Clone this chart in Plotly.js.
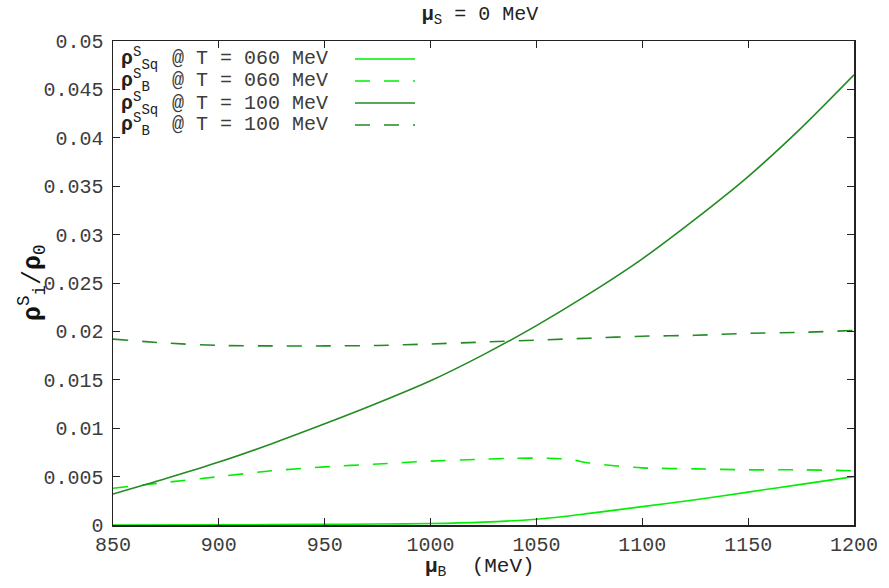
<!DOCTYPE html>
<html>
<head>
<meta charset="utf-8">
<script src="https://cdn.plot.ly/plotly-3.0.1.min.js"></script>
<style>html,body{margin:0;padding:0;background:#fff;}#chart{width:889px;height:588px;}</style>
</head>
<body>
<div id="chart"></div>
<script>
// ---- data ----
var muB_T060_Sq = [850, 900, 950, 975, 1000, 1025, 1050, 1060, 1075, 1100, 1125, 1150, 1175, 1200];
var rho_T060_Sq = [0.0000, 0.00002, 0.00006, 0.0001, 0.00015, 0.0003, 0.0006, 0.0008, 0.0012, 0.0019, 0.0026, 0.0034, 0.0042, 0.0050];

var muB_T060_B = [850, 875, 900, 925, 950, 975, 1000, 1025, 1040, 1055, 1065, 1075, 1088, 1100, 1125, 1150, 1175, 1200];
var rho_T060_B = [0.0038, 0.0044, 0.0050, 0.0056, 0.0060, 0.0063, 0.0066, 0.0068, 0.0069, 0.0069, 0.0068, 0.0064, 0.0061, 0.0059, 0.0058, 0.0057, 0.0057, 0.0056];

var muB_T100_Sq = [850, 875, 900, 925, 950, 975, 1000, 1025, 1050, 1075, 1100, 1125, 1150, 1175, 1200];
var rho_T100_Sq = [0.0032, 0.0048, 0.0065, 0.0084, 0.01045, 0.0126, 0.0149, 0.0176, 0.0206, 0.0239, 0.0275, 0.0316, 0.0360, 0.0410, 0.0465];

var muB_T100_B = [850, 875, 900, 925, 950, 975, 1000, 1025, 1050, 1075, 1100, 1125, 1150, 1175, 1200];
var rho_T100_B = [0.0192, 0.0188, 0.01855, 0.0185, 0.0185, 0.01855, 0.0187, 0.0189, 0.0191, 0.0193, 0.0195, 0.0196, 0.0198, 0.0199, 0.0201];

var legendSymbols = ["<b>ρ</b><sup>S</sup><sub>Sq</sub>", "<b>ρ</b><sup>S</sup><sub>B</sub>", "<b>ρ</b><sup>S</sup><sub>Sq</sub>", "<b>ρ</b><sup>S</sup><sub>B</sub>"];
var legendTexts = ["@ T = 060 MeV", "@ T = 060 MeV", "@ T = 100 MeV", "@ T = 100 MeV"];

var xTickVals = [850, 900, 950, 1000, 1050, 1100, 1150, 1200];
var titleText = "<b>μ</b><sub>S</sub> = 0 MeV";
var xTitleText = "<b>μ</b><sub>B</sub>  (MeV)";
var yTitleText = "<b>ρ</b><sup>S</sup><sub>i</sub>/<b>ρ</b><sub>0</sub>";

// ---- styling ----
var LIGHT = "#00ee00", DARK = "#228b22";
var DASH = "15px,14px";
var FONT = "Liberation Mono";
var TXT = "#3c3c3c";
var styles = [
  {color: LIGHT, dash: "solid"},
  {color: LIGHT, dash: DASH},
  {color: DARK, dash: "solid"},
  {color: DARK, dash: DASH}
];
var xs = [muB_T060_Sq, muB_T060_B, muB_T100_Sq, muB_T100_B];
var ys = [rho_T060_Sq, rho_T060_B, rho_T100_Sq, rho_T100_B];

var traces = xs.map(function (x, i) {
  return {
    x: x, y: ys[i], type: "scatter", mode: "lines",
    line: {color: styles[i].color, dash: styles[i].dash, width: 1.6, shape: "spline", smoothing: 0.8},
    showlegend: false, hoverinfo: "skip"
  };
});

var W = 889, H = 588, L = 113, R = 35, T = 41, B = 63;
var pw = W - L - R, ph = H - T - B;
function px(xp) { return (xp - L) / pw; }
function py(yp) { return (H - B - yp) / ph; }

var annotations = [];
var shapes = [];
var rows = [59, 81, 103, 125];
rows.forEach(function (r, i) {
  annotations.push({xref: "paper", yref: "paper", x: px(119), y: py(r), xanchor: "left", yanchor: "middle",
    text: legendSymbols[i], showarrow: false, font: {family: FONT, size: 20, color: "#222"}});
  annotations.push({xref: "paper", yref: "paper", x: px(170), y: py(r), xanchor: "left", yanchor: "middle",
    text: legendTexts[i], showarrow: false, font: {family: FONT, size: 20, color: TXT}});
  shapes.push({type: "line", xref: "paper", yref: "paper", x0: px(355), x1: px(415), y0: py(r), y1: py(r),
    line: {color: styles[i].color, dash: styles[i].dash, width: 1.6}});
});
// axis titles
annotations.push({xref: "paper", yref: "paper", x: px(32), y: py(283), xanchor: "center", yanchor: "middle",
  textangle: -90, text: yTitleText, showarrow: false, font: {family: FONT, size: 25, color: "#111"}});
annotations.push({xref: "paper", yref: "paper", x: px(480), y: py(567), xanchor: "center", yanchor: "middle",
  text: xTitleText, showarrow: false, font: {family: FONT, size: 21, color: "#222"}});

var layout = {
  width: W, height: H,
  margin: {l: L, r: R, t: T, b: B},
  paper_bgcolor: "#fff", plot_bgcolor: "#fff",
  font: {family: FONT, size: 20, color: TXT},
  title: {text: titleText, x: px(480), xref: "paper", y: 1 - 13 / H, yanchor: "middle",
    font: {family: FONT, size: 20, color: "#222"}},
  xaxis: {
    range: [850, 1200], tickvals: xTickVals, ticks: "inside", ticklen: 7, tickcolor: "#222",
    showline: true, linecolor: "#222", linewidth: 1.5, mirror: "ticks",
    showgrid: false, zeroline: false, fixedrange: true,
    tickfont: {family: FONT, size: 20, color: TXT}
  },
  yaxis: {
    range: [0, 0.05], dtick: 0.005, tick0: 0, ticks: "inside", ticklen: 7, tickcolor: "#222",
    showline: true, linecolor: "#222", linewidth: 1.5, mirror: "ticks",
    showgrid: false, zeroline: false, fixedrange: true,
    tickfont: {family: FONT, size: 20, color: TXT}, ticklabelstandoff: 4
  },
  annotations: annotations,
  shapes: shapes
};

Plotly.newPlot("chart", traces, layout, {staticPlot: true, displayModeBar: false});
</script>
</body>
</html>
